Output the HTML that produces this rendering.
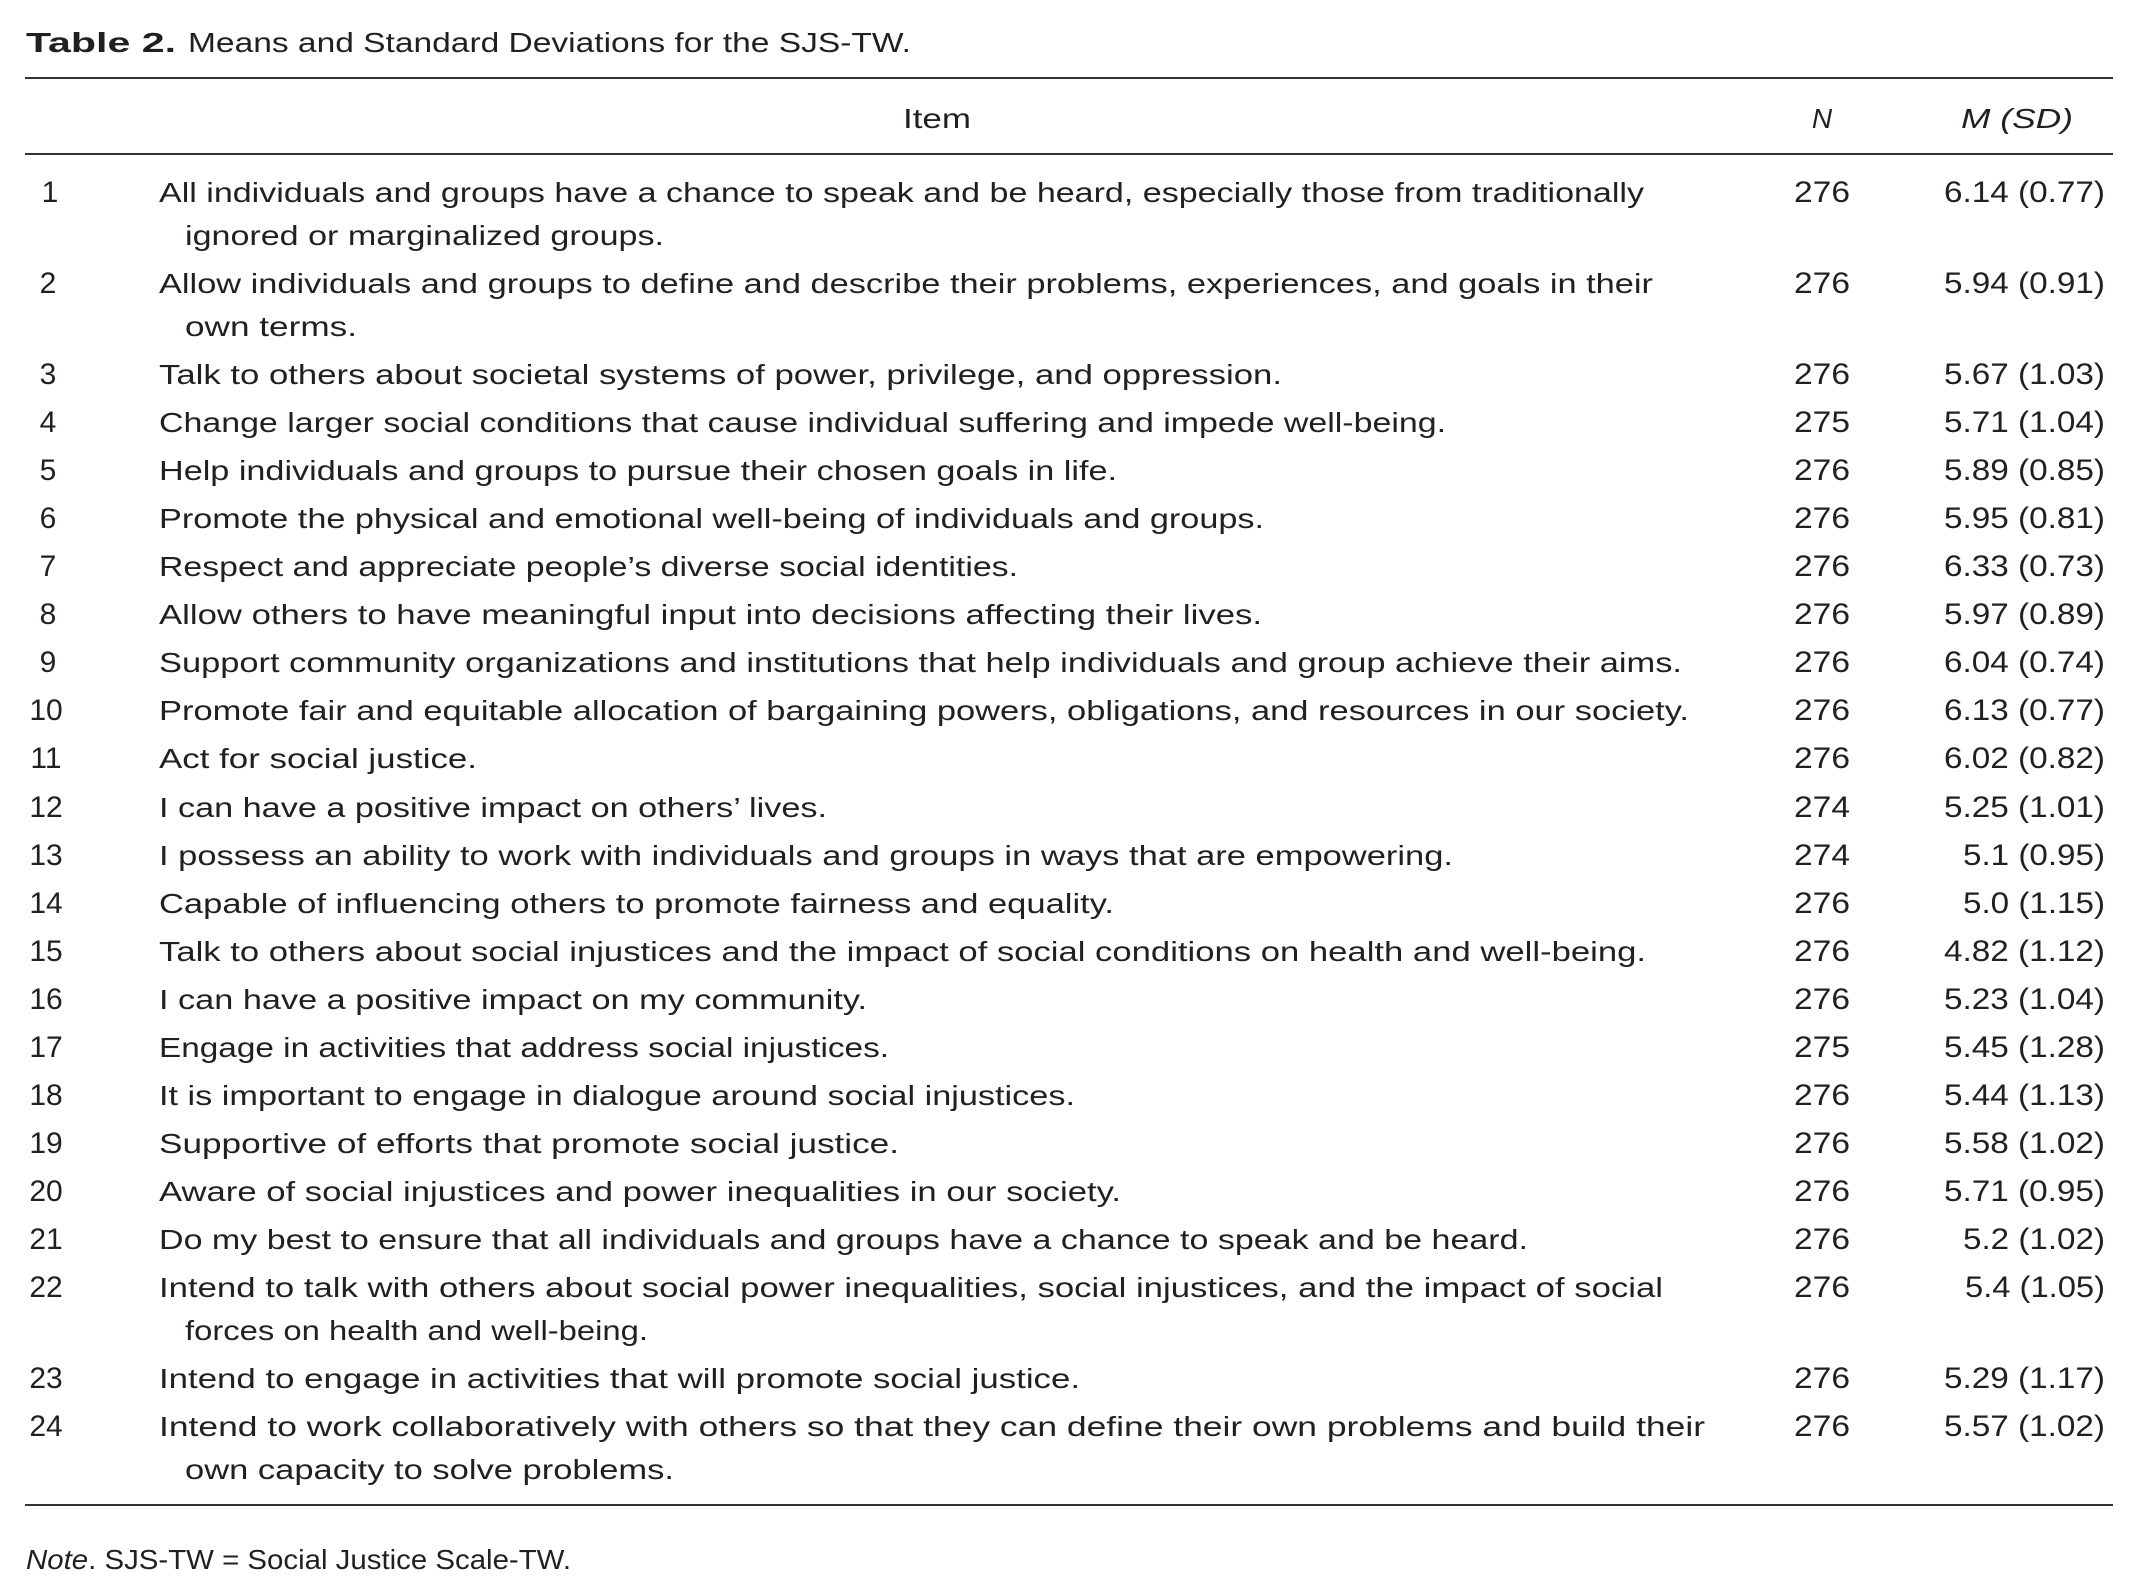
<!DOCTYPE html>
<html><head><meta charset="utf-8"><style>
html,body{margin:0;padding:0;background:#fff;width:2139px;height:1592px;overflow:hidden}
svg{display:block}
text{font-family:"Liberation Sans",sans-serif;fill:#231f20;font-size:28px}
.n{font-size:30px}
</style></head><body>
<svg width="2139" height="1592" viewBox="0 0 2139 1592" xmlns="http://www.w3.org/2000/svg">
<text x="26" y="52" font-size="32" font-weight="bold" textLength="150" lengthAdjust="spacingAndGlyphs">Table 2.</text>
<text x="188" y="52" font-size="32" textLength="723" lengthAdjust="spacingAndGlyphs">Means and Standard Deviations for the SJS-TW.</text>
<rect x="25" y="77" width="2088" height="2" fill="#333"/>
<rect x="25" y="153" width="2088" height="2" fill="#333"/>
<rect x="25" y="1504" width="2088" height="2" fill="#333"/>
<text x="937" y="128" text-anchor="middle" font-size="32" textLength="68" lengthAdjust="spacingAndGlyphs">Item</text>
<text x="1822" y="128" text-anchor="middle" font-style="italic" font-size="31">N</text>
<text x="1961" y="128" font-style="italic" font-size="31" textLength="112" lengthAdjust="spacingAndGlyphs">M (SD)</text>
<g id="rows" class="n">
<text class="n" x="50" y="202" text-anchor="middle">1</text><text x="159" y="202" textLength="1485" lengthAdjust="spacingAndGlyphs">All individuals and groups have a chance to speak and be heard, especially those from traditionally</text><text x="185" y="245" textLength="479" lengthAdjust="spacingAndGlyphs">ignored or marginalized groups.</text><text class="n" x="1794" y="202" textLength="56" lengthAdjust="spacingAndGlyphs">276</text><text class="n" x="1944" y="202" textLength="161" lengthAdjust="spacingAndGlyphs">6.14 (0.77)</text>
<text class="n" x="48" y="293" text-anchor="middle">2</text><text x="159" y="293" textLength="1494" lengthAdjust="spacingAndGlyphs">Allow individuals and groups to define and describe their problems, experiences, and goals in their</text><text x="185" y="336" textLength="172" lengthAdjust="spacingAndGlyphs">own terms.</text><text class="n" x="1794" y="293" textLength="56" lengthAdjust="spacingAndGlyphs">276</text><text class="n" x="1944" y="293" textLength="161" lengthAdjust="spacingAndGlyphs">5.94 (0.91)</text>
<text class="n" x="48" y="384" text-anchor="middle">3</text><text x="159" y="384" textLength="1123" lengthAdjust="spacingAndGlyphs">Talk to others about societal systems of power, privilege, and oppression.</text><text class="n" x="1794" y="384" textLength="56" lengthAdjust="spacingAndGlyphs">276</text><text class="n" x="1944" y="384" textLength="161" lengthAdjust="spacingAndGlyphs">5.67 (1.03)</text>
<text class="n" x="48" y="432" text-anchor="middle">4</text><text x="159" y="432" textLength="1287" lengthAdjust="spacingAndGlyphs">Change larger social conditions that cause individual suffering and impede well-being.</text><text class="n" x="1794" y="432" textLength="56" lengthAdjust="spacingAndGlyphs">275</text><text class="n" x="1944" y="432" textLength="161" lengthAdjust="spacingAndGlyphs">5.71 (1.04)</text>
<text class="n" x="48" y="480" text-anchor="middle">5</text><text x="159" y="480" textLength="958" lengthAdjust="spacingAndGlyphs">Help individuals and groups to pursue their chosen goals in life.</text><text class="n" x="1794" y="480" textLength="56" lengthAdjust="spacingAndGlyphs">276</text><text class="n" x="1944" y="480" textLength="161" lengthAdjust="spacingAndGlyphs">5.89 (0.85)</text>
<text class="n" x="48" y="528" text-anchor="middle">6</text><text x="159" y="528" textLength="1105" lengthAdjust="spacingAndGlyphs">Promote the physical and emotional well-being of individuals and groups.</text><text class="n" x="1794" y="528" textLength="56" lengthAdjust="spacingAndGlyphs">276</text><text class="n" x="1944" y="528" textLength="161" lengthAdjust="spacingAndGlyphs">5.95 (0.81)</text>
<text class="n" x="48" y="576" text-anchor="middle">7</text><text x="159" y="576" textLength="859" lengthAdjust="spacingAndGlyphs">Respect and appreciate people’s diverse social identities.</text><text class="n" x="1794" y="576" textLength="56" lengthAdjust="spacingAndGlyphs">276</text><text class="n" x="1944" y="576" textLength="161" lengthAdjust="spacingAndGlyphs">6.33 (0.73)</text>
<text class="n" x="48" y="624" text-anchor="middle">8</text><text x="159" y="624" textLength="1103" lengthAdjust="spacingAndGlyphs">Allow others to have meaningful input into decisions affecting their lives.</text><text class="n" x="1794" y="624" textLength="56" lengthAdjust="spacingAndGlyphs">276</text><text class="n" x="1944" y="624" textLength="161" lengthAdjust="spacingAndGlyphs">5.97 (0.89)</text>
<text class="n" x="48" y="672" text-anchor="middle">9</text><text x="159" y="672" textLength="1523" lengthAdjust="spacingAndGlyphs">Support community organizations and institutions that help individuals and group achieve their aims.</text><text class="n" x="1794" y="672" textLength="56" lengthAdjust="spacingAndGlyphs">276</text><text class="n" x="1944" y="672" textLength="161" lengthAdjust="spacingAndGlyphs">6.04 (0.74)</text>
<text class="n" x="46" y="720" text-anchor="middle">10</text><text x="159" y="720" textLength="1530" lengthAdjust="spacingAndGlyphs">Promote fair and equitable allocation of bargaining powers, obligations, and resources in our society.</text><text class="n" x="1794" y="720" textLength="56" lengthAdjust="spacingAndGlyphs">276</text><text class="n" x="1944" y="720" textLength="161" lengthAdjust="spacingAndGlyphs">6.13 (0.77)</text>
<text class="n" x="46" y="768" text-anchor="middle">11</text><text x="159" y="768" textLength="318" lengthAdjust="spacingAndGlyphs">Act for social justice.</text><text class="n" x="1794" y="768" textLength="56" lengthAdjust="spacingAndGlyphs">276</text><text class="n" x="1944" y="768" textLength="161" lengthAdjust="spacingAndGlyphs">6.02 (0.82)</text>
<text class="n" x="46" y="817" text-anchor="middle">12</text><text x="159" y="817" textLength="668" lengthAdjust="spacingAndGlyphs">I can have a positive impact on others’ lives.</text><text class="n" x="1794" y="817" textLength="56" lengthAdjust="spacingAndGlyphs">274</text><text class="n" x="1944" y="817" textLength="161" lengthAdjust="spacingAndGlyphs">5.25 (1.01)</text>
<text class="n" x="46" y="865" text-anchor="middle">13</text><text x="159" y="865" textLength="1294" lengthAdjust="spacingAndGlyphs">I possess an ability to work with individuals and groups in ways that are empowering.</text><text class="n" x="1794" y="865" textLength="56" lengthAdjust="spacingAndGlyphs">274</text><text class="n" x="1963" y="865" textLength="142" lengthAdjust="spacingAndGlyphs">5.1 (0.95)</text>
<text class="n" x="46" y="913" text-anchor="middle">14</text><text x="159" y="913" textLength="955" lengthAdjust="spacingAndGlyphs">Capable of influencing others to promote fairness and equality.</text><text class="n" x="1794" y="913" textLength="56" lengthAdjust="spacingAndGlyphs">276</text><text class="n" x="1963" y="913" textLength="142" lengthAdjust="spacingAndGlyphs">5.0 (1.15)</text>
<text class="n" x="46" y="961" text-anchor="middle">15</text><text x="159" y="961" textLength="1487" lengthAdjust="spacingAndGlyphs">Talk to others about social injustices and the impact of social conditions on health and well-being.</text><text class="n" x="1794" y="961" textLength="56" lengthAdjust="spacingAndGlyphs">276</text><text class="n" x="1944" y="961" textLength="161" lengthAdjust="spacingAndGlyphs">4.82 (1.12)</text>
<text class="n" x="46" y="1009" text-anchor="middle">16</text><text x="159" y="1009" textLength="708" lengthAdjust="spacingAndGlyphs">I can have a positive impact on my community.</text><text class="n" x="1794" y="1009" textLength="56" lengthAdjust="spacingAndGlyphs">276</text><text class="n" x="1944" y="1009" textLength="161" lengthAdjust="spacingAndGlyphs">5.23 (1.04)</text>
<text class="n" x="46" y="1057" text-anchor="middle">17</text><text x="159" y="1057" textLength="730" lengthAdjust="spacingAndGlyphs">Engage in activities that address social injustices.</text><text class="n" x="1794" y="1057" textLength="56" lengthAdjust="spacingAndGlyphs">275</text><text class="n" x="1944" y="1057" textLength="161" lengthAdjust="spacingAndGlyphs">5.45 (1.28)</text>
<text class="n" x="46" y="1105" text-anchor="middle">18</text><text x="159" y="1105" textLength="916" lengthAdjust="spacingAndGlyphs">It is important to engage in dialogue around social injustices.</text><text class="n" x="1794" y="1105" textLength="56" lengthAdjust="spacingAndGlyphs">276</text><text class="n" x="1944" y="1105" textLength="161" lengthAdjust="spacingAndGlyphs">5.44 (1.13)</text>
<text class="n" x="46" y="1153" text-anchor="middle">19</text><text x="159" y="1153" textLength="740" lengthAdjust="spacingAndGlyphs">Supportive of efforts that promote social justice.</text><text class="n" x="1794" y="1153" textLength="56" lengthAdjust="spacingAndGlyphs">276</text><text class="n" x="1944" y="1153" textLength="161" lengthAdjust="spacingAndGlyphs">5.58 (1.02)</text>
<text class="n" x="46" y="1201" text-anchor="middle">20</text><text x="159" y="1201" textLength="962" lengthAdjust="spacingAndGlyphs">Aware of social injustices and power inequalities in our society.</text><text class="n" x="1794" y="1201" textLength="56" lengthAdjust="spacingAndGlyphs">276</text><text class="n" x="1944" y="1201" textLength="161" lengthAdjust="spacingAndGlyphs">5.71 (0.95)</text>
<text class="n" x="46" y="1249" text-anchor="middle">21</text><text x="159" y="1249" textLength="1369" lengthAdjust="spacingAndGlyphs">Do my best to ensure that all individuals and groups have a chance to speak and be heard.</text><text class="n" x="1794" y="1249" textLength="56" lengthAdjust="spacingAndGlyphs">276</text><text class="n" x="1963" y="1249" textLength="142" lengthAdjust="spacingAndGlyphs">5.2 (1.02)</text>
<text class="n" x="46" y="1297" text-anchor="middle">22</text><text x="159" y="1297" textLength="1504" lengthAdjust="spacingAndGlyphs">Intend to talk with others about social power inequalities, social injustices, and the impact of social</text><text x="185" y="1340" textLength="463" lengthAdjust="spacingAndGlyphs">forces on health and well-being.</text><text class="n" x="1794" y="1297" textLength="56" lengthAdjust="spacingAndGlyphs">276</text><text class="n" x="1965" y="1297" textLength="140" lengthAdjust="spacingAndGlyphs">5.4 (1.05)</text>
<text class="n" x="46" y="1388" text-anchor="middle">23</text><text x="159" y="1388" textLength="921" lengthAdjust="spacingAndGlyphs">Intend to engage in activities that will promote social justice.</text><text class="n" x="1794" y="1388" textLength="56" lengthAdjust="spacingAndGlyphs">276</text><text class="n" x="1944" y="1388" textLength="161" lengthAdjust="spacingAndGlyphs">5.29 (1.17)</text>
<text class="n" x="46" y="1436" text-anchor="middle">24</text><text x="159" y="1436" textLength="1546" lengthAdjust="spacingAndGlyphs">Intend to work collaboratively with others so that they can define their own problems and build their</text><text x="185" y="1479" textLength="489" lengthAdjust="spacingAndGlyphs">own capacity to solve problems.</text><text class="n" x="1794" y="1436" textLength="56" lengthAdjust="spacingAndGlyphs">276</text><text class="n" x="1944" y="1436" textLength="161" lengthAdjust="spacingAndGlyphs">5.57 (1.02)</text>
</g>
<text x="26" y="1569" font-size="27" textLength="545" lengthAdjust="spacingAndGlyphs"><tspan font-style="italic">Note</tspan>. SJS-TW = Social Justice Scale-TW.</text>
</svg>
</body></html>
